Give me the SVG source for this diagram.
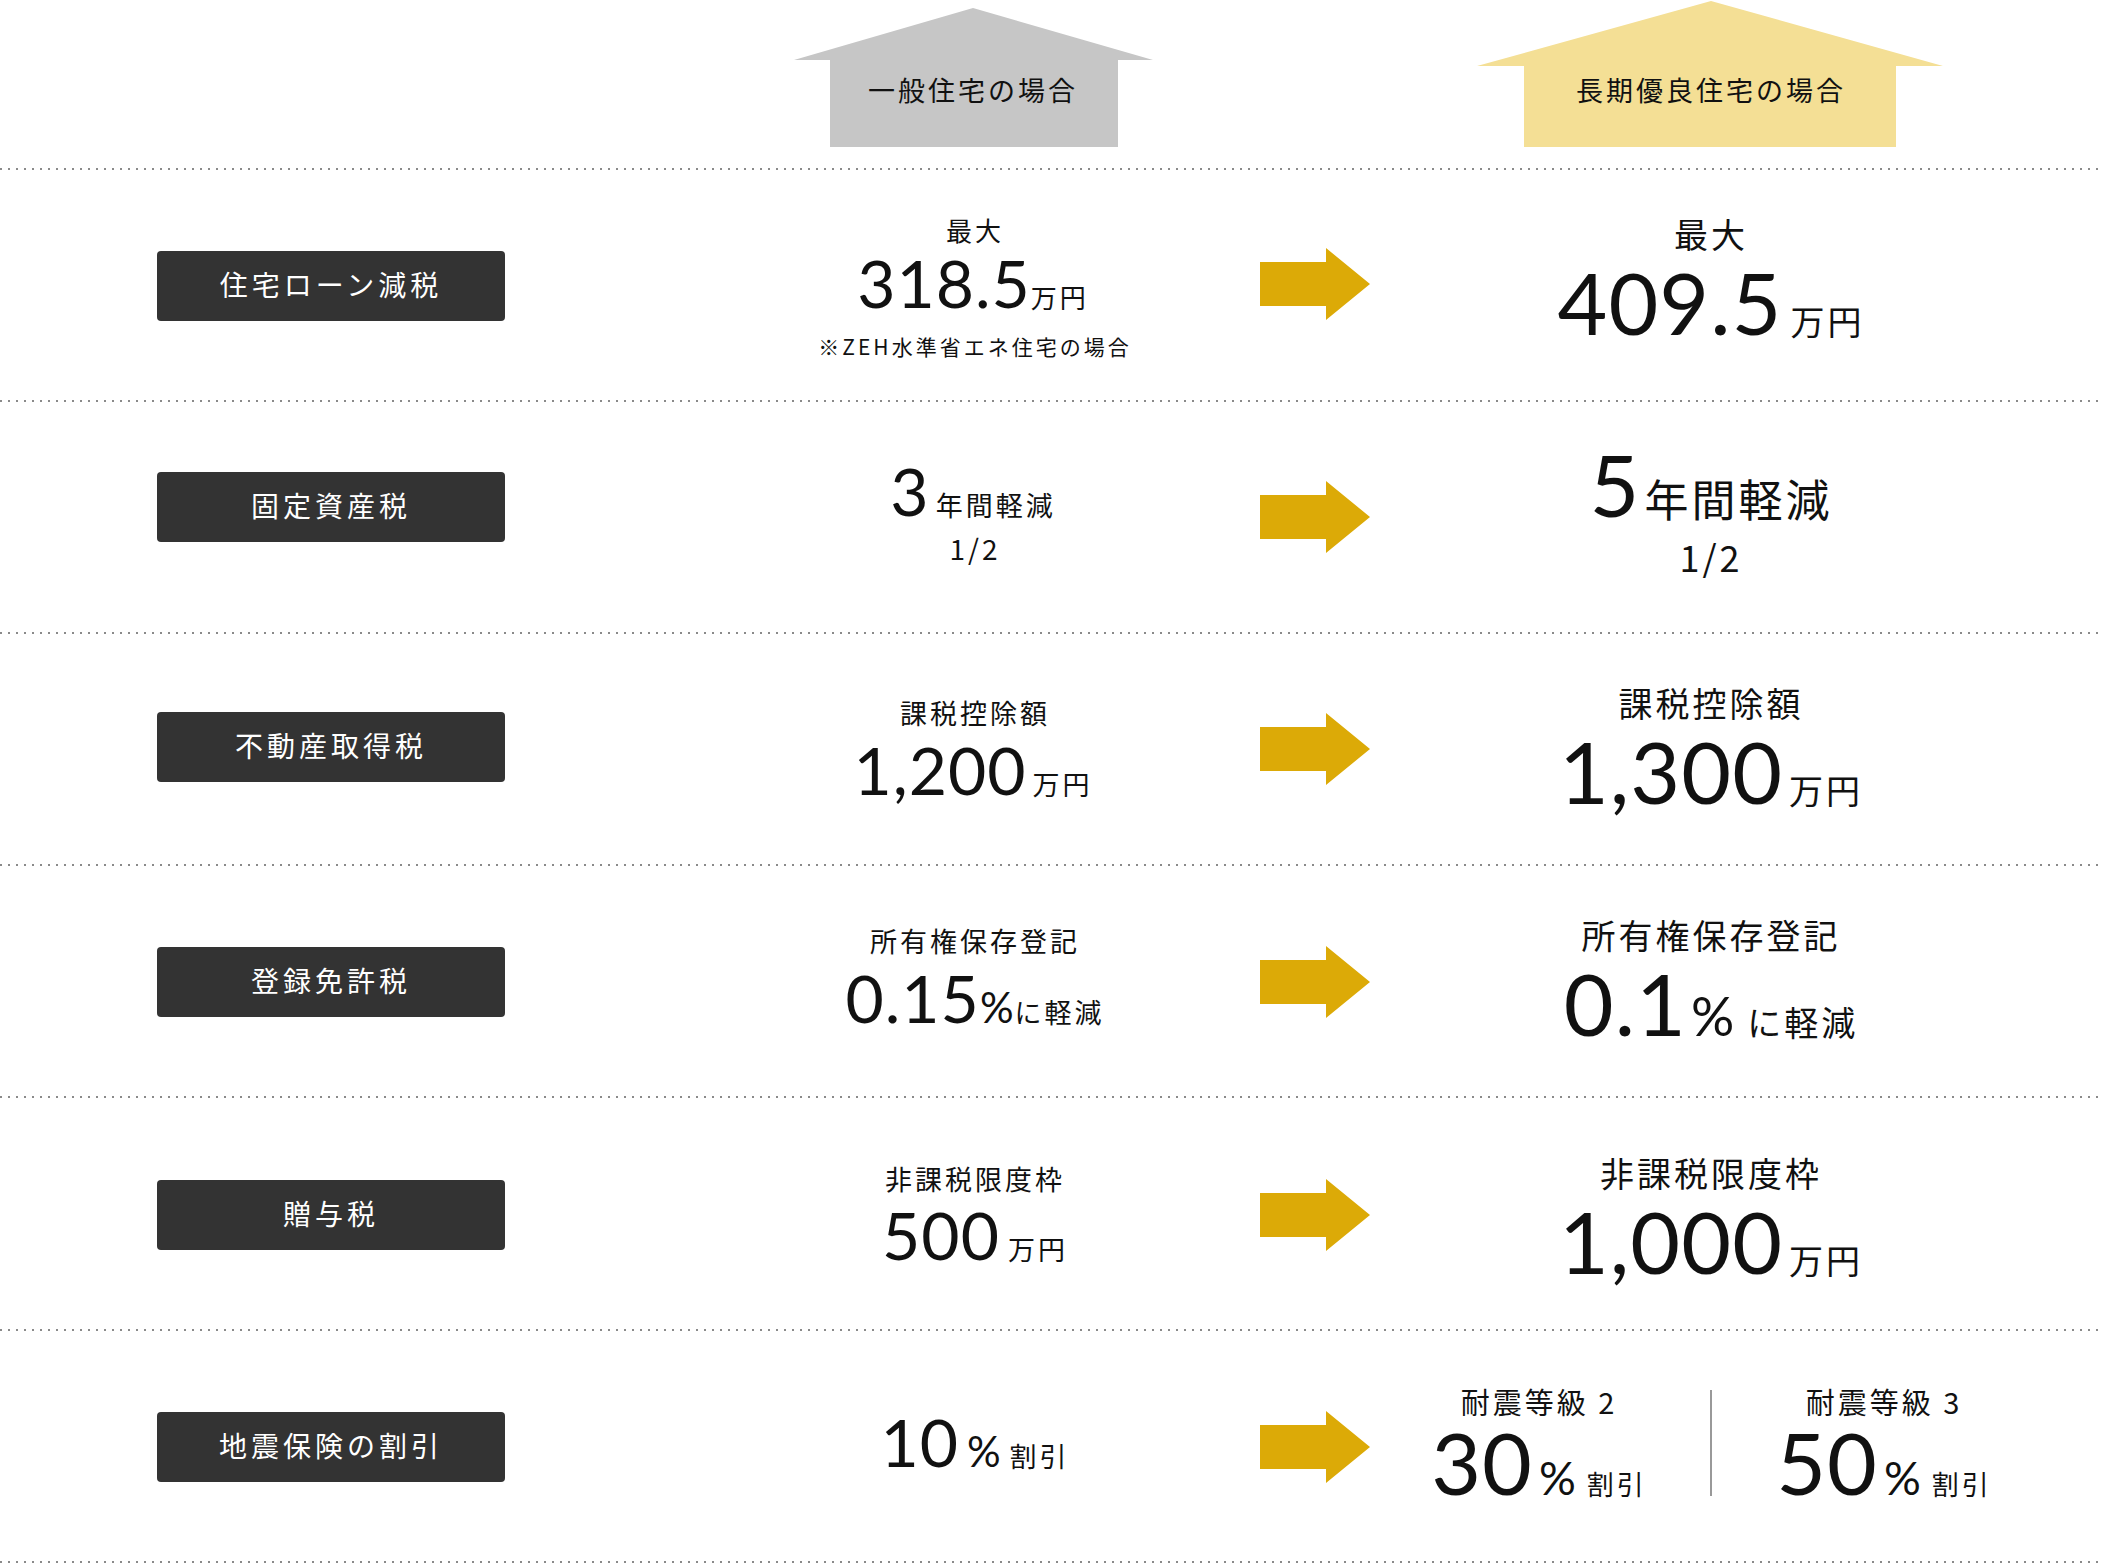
<svg xmlns="http://www.w3.org/2000/svg" width="2102" height="1564" viewBox="0 0 2102 1564">
<style>
.dot{stroke:#8a8a8a;stroke-width:2;stroke-dasharray:2 6;fill:none}
.box{fill:#333}
.bl{fill:#fff;font-family:"Noto Sans CJK JP",sans-serif;font-size:28px;letter-spacing:4px;text-anchor:middle}
.t{fill:#111;font-family:"Noto Sans CJK JP",sans-serif;text-anchor:middle;letter-spacing:3px}
.n{font-family:Lato,"Noto Sans CJK JP",sans-serif;letter-spacing:1px}
.arr{fill:#dcaa07}
</style>
<rect width="2102" height="1564" fill="#fff"/>
<g id="header-general">
<polygon points="973,8 1153,60 1118,60 1118,147 830,147 830,60 794,60" fill="#c6c6c6"/>
<text class="t" x="973" y="101" font-size="27">一般住宅の場合</text>
</g>
<g id="header-long">
<polygon points="1711,1 1943,66 1896,66 1896,147 1524,147 1524,66 1477,66" fill="#f4df95"/>
<text class="t" x="1711" y="101" font-size="27">長期優良住宅の場合</text>
</g>
<g id="dividers">
<line class="dot" x1="0" y1="169" x2="2102" y2="169"/>
<line class="dot" x1="0" y1="401" x2="2102" y2="401"/>
<line class="dot" x1="0" y1="633" x2="2102" y2="633"/>
<line class="dot" x1="0" y1="865" x2="2102" y2="865"/>
<line class="dot" x1="0" y1="1097" x2="2102" y2="1097"/>
<line class="dot" x1="0" y1="1330" x2="2102" y2="1330"/>
<line class="dot" x1="0" y1="1562" x2="2102" y2="1562"/>
</g>
<g id="labels">
<g id="l1"><rect class="box" x="157" y="251" width="348" height="70" rx="4"/><text class="bl" x="331" y="296">住宅ローン減税</text></g>
<g id="l2"><rect class="box" x="157" y="472" width="348" height="70" rx="4"/><text class="bl" x="331" y="517">固定資産税</text></g>
<g id="l3"><rect class="box" x="157" y="712" width="348" height="70" rx="4"/><text class="bl" x="331" y="757">不動産取得税</text></g>
<g id="l4"><rect class="box" x="157" y="947" width="348" height="70" rx="4"/><text class="bl" x="331" y="992">登録免許税</text></g>
<g id="l5"><rect class="box" x="157" y="1180" width="348" height="70" rx="4"/><text class="bl" x="331" y="1225">贈与税</text></g>
<g id="l6"><rect class="box" x="157" y="1412" width="348" height="70" rx="4"/><text class="bl" x="331" y="1457">地震保険の割引</text></g>
</g>
<g id="connectors">
<polygon class="arr" points="1260,262 1326,262 1326,248 1370,284 1326,320 1326,306 1260,306"/>
<polygon class="arr" points="1260,495 1326,495 1326,481 1370,517 1326,553 1326,539 1260,539"/>
<polygon class="arr" points="1260,727 1326,727 1326,713 1370,749 1326,785 1326,771 1260,771"/>
<polygon class="arr" points="1260,960 1326,960 1326,946 1370,982 1326,1018 1326,1004 1260,1004"/>
<polygon class="arr" points="1260,1193 1326,1193 1326,1179 1370,1215 1326,1251 1326,1237 1260,1237"/>
<polygon class="arr" points="1260,1425 1326,1425 1326,1411 1370,1447 1326,1483 1326,1469 1260,1469"/>
</g>
<g id="general">
<text class="t" x="975" y="241" font-size="26">最大</text>
<text class="t" x="973" y="308"><tspan class="n" font-size="66">318.5</tspan><tspan font-size="26">万円</tspan></text>
<text class="t" x="975" y="355" font-size="21">※ZEH水準省エネ住宅の場合</text>
<text class="t" x="973" y="516"><tspan class="n" font-size="66">3</tspan><tspan font-size="27" dx="6">年間軽減</tspan></text>
<text class="t" x="975" y="560" font-size="28">1/2</text>
<text class="t" x="975" y="724" font-size="27">課税控除額</text>
<text class="t" x="973" y="795"><tspan class="n" font-size="66">1,200</tspan><tspan font-size="27" dx="6">万円</tspan></text>
<text class="t" x="975" y="952" font-size="27">所有権保存登記</text>
<text class="t" x="975" y="1023"><tspan class="n" font-size="66">0.15</tspan><tspan class="n" font-size="42">%</tspan><tspan font-size="27">に軽減</tspan></text>
<text class="t" x="975" y="1190" font-size="27">非課税限度枠</text>
<text class="t" x="975" y="1260"><tspan class="n" font-size="66">500</tspan><tspan font-size="27" dx="8">万円</tspan></text>
<text class="t" x="975" y="1467"><tspan class="n" font-size="66">10</tspan><tspan class="n" font-size="42" dx="8">%</tspan><tspan font-size="27" dx="8">割引</tspan></text>
</g>
<g id="long">
<text class="t" x="1711" y="248" font-size="34">最大</text>
<text class="t" x="1711" y="335"><tspan class="n" font-size="86">409.5</tspan><tspan font-size="34" dx="8">万円</tspan></text>
<text class="t" x="1711" y="517"><tspan class="n" font-size="86">5</tspan><tspan font-size="44" dx="4">年間軽減</tspan></text>
<text class="t" x="1711" y="572" font-size="36">1/2</text>
<text class="t" x="1711" y="717" font-size="34">課税控除額</text>
<text class="t" x="1711" y="804"><tspan class="n" font-size="86">1,300</tspan><tspan font-size="34" dx="6">万円</tspan></text>
<text class="t" x="1711" y="949" font-size="34">所有権保存登記</text>
<text class="t" x="1711" y="1036"><tspan class="n" font-size="86">0.1</tspan><tspan class="n" font-size="54" dx="4">%</tspan><tspan font-size="34" dx="12">に軽減</tspan></text>
<text class="t" x="1711" y="1187" font-size="34">非課税限度枠</text>
<text class="t" x="1711" y="1274"><tspan class="n" font-size="86">1,000</tspan><tspan font-size="34" dx="6">万円</tspan></text>
<text class="t" x="1539" y="1414" font-size="29">耐震等級 2</text>
<text class="t" x="1539" y="1495"><tspan class="n" font-size="86">30</tspan><tspan class="n" font-size="46" dx="6">%</tspan><tspan font-size="27" dx="10">割引</tspan></text>
<line x1="1711" y1="1390" x2="1711" y2="1496" stroke="#999" stroke-width="2"/>
<text class="t" x="1884" y="1414" font-size="29">耐震等級 3</text>
<text class="t" x="1884" y="1495"><tspan class="n" font-size="86">50</tspan><tspan class="n" font-size="46" dx="6">%</tspan><tspan font-size="27" dx="10">割引</tspan></text>
</g>
</svg>
